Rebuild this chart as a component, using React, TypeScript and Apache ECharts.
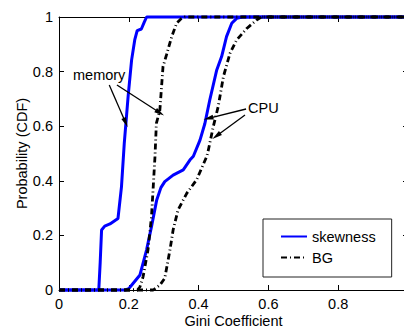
import React, { useEffect, useRef } from "react";
import * as echarts from "echarts";

const xTicks = [0, 0.2, 0.4, 0.6, 0.8, 1];
const yTicks = [0, 0.2, 0.4, 0.6, 0.8, 1];

const memSkewness: number[][] = [
  [0, 0], [0.114, 0], [0.118, 0.1], [0.122, 0.22], [0.131, 0.234], [0.146, 0.242],
  [0.169, 0.262], [0.179, 0.378], [0.187, 0.537], [0.198, 0.708], [0.208, 0.842],
  [0.217, 0.916], [0.224, 0.95], [0.236, 0.956], [0.244, 0.98], [0.251, 1], [1, 1],
];
const memBG: number[][] = [
  [0, 0], [0.225, 0], [0.232, 0.012], [0.241, 0.049], [0.255, 0.147], [0.265, 0.268],
  [0.27, 0.378], [0.275, 0.488], [0.279, 0.61], [0.289, 0.659], [0.298, 0.818],
  [0.308, 0.861], [0.323, 0.928], [0.337, 0.977], [0.351, 0.995], [0.36, 1], [1, 1],
];
const cpuSkewness: number[][] = [
  [0, 0], [0.19, 0], [0.2, 0.005], [0.212, 0.024], [0.232, 0.055], [0.251, 0.147],
  [0.265, 0.232], [0.28, 0.33], [0.292, 0.375], [0.303, 0.397], [0.327, 0.421],
  [0.356, 0.44], [0.375, 0.476], [0.385, 0.49], [0.404, 0.549], [0.418, 0.61],
  [0.432, 0.696], [0.452, 0.806], [0.466, 0.855], [0.48, 0.928], [0.495, 0.977],
  [0.509, 0.995], [0.525, 1], [1, 1],
];
const cpuBG: number[][] = [
  [0, 0], [0.27, 0], [0.289, 0.018], [0.303, 0.043], [0.318, 0.147], [0.327, 0.22],
  [0.341, 0.293], [0.366, 0.354], [0.394, 0.403], [0.423, 0.488], [0.428, 0.513],
  [0.442, 0.598], [0.456, 0.671], [0.471, 0.781], [0.49, 0.867], [0.509, 0.916],
  [0.538, 0.958], [0.566, 0.989], [0.58, 1], [1, 1],
];

// annotation arrows: [fromX, fromY, toX, toY] in data coordinates
const arrows: number[][] = [
  [0.144, 0.751, 0.191, 0.613],
  [0.166, 0.751, 0.289, 0.649],
  [0.536, 0.663, 0.428, 0.629],
  [0.533, 0.641, 0.451, 0.564],
];

const FONT = "'Liberation Sans', Arial, Helvetica, sans-serif";
const FS = 14.5;

export default function App() {
  const ref = useRef<HTMLDivElement>(null);
  useEffect(() => {
    if (!ref.current) return;
    const chart = echarts.init(ref.current, undefined, { renderer: "svg" });
    const blue = "#0000ff";
    const bgLine = { color: "#000", width: 2.8, type: [6, 3, 1, 3] as any, cap: "butt" as any };
    const skLine = { color: blue, width: 3 };
    const axisCommon = {
      type: "value" as const,
      min: 0,
      max: 1,
      interval: 0.2,
      axisLine: { show: true, onZero: false, lineStyle: { color: "#000", width: 1 } },
      axisTick: { show: true, inside: true, length: 5, lineStyle: { color: "#000" } },
      splitLine: { show: false },
    };
    chart.setOption({
      animation: false,
      textStyle: { fontFamily: FONT },
      grid: { left: 59, right: -4, top: 17, bottom: 37, containLabel: false, outerBoundsMode: "none" },
      legend: {
        orient: "vertical",
        left: 263,
        top: 219,
        data: ["skewness", "BG"],
        backgroundColor: "#fff",
        borderColor: "#222",
        borderWidth: 1,
        borderRadius: 0,
        padding: [10, 16, 12, 17],
        itemGap: 6,
        itemWidth: 26,
        itemHeight: 14,
        itemStyle: { opacity: 0 },
        textStyle: { fontFamily: FONT, fontSize: FS, color: "#000" },
      },
      xAxis: [
        {
          ...axisCommon,
          position: "bottom",
          name: "Gini Coefficient",
          nameLocation: "middle",
          nameGap: 23,
          nameMoveOverlap: false,
          nameTextStyle: { fontFamily: FONT, fontSize: FS, color: "#000", verticalAlign: "top" },
          axisLabel: {
            color: "#000",
            fontFamily: FONT,
            fontSize: FS,
            margin: 6,
            showMaxLabel: false,
            formatter: (v: number) => (xTicks.includes(Math.round(v * 10) / 10) ? String(Math.round(v * 10) / 10) : ""),
          },
        },
        {
          ...axisCommon,
          position: "top",
          axisLabel: { show: false },
        },
      ],
      yAxis: [
        {
          ...axisCommon,
          position: "left",
          name: "Probability (CDF)",
          nameLocation: "middle",
          nameGap: 30,
          nameMoveOverlap: false,
          nameTextStyle: { fontFamily: FONT, fontSize: FS, color: "#000" },
          axisLabel: {
            color: "#000",
            fontFamily: FONT,
            fontSize: FS,
            margin: 6,
            formatter: (v: number) => (yTicks.includes(Math.round(v * 10) / 10) ? String(Math.round(v * 10) / 10) : ""),
          },
        },
        {
          ...axisCommon,
          position: "right",
          axisLabel: { show: false },
        },
      ],
      series: [
        {
          name: "skewness", type: "line", data: memSkewness, showSymbol: false, symbol: "none",
          lineStyle: skLine, itemStyle: { color: blue }, clip: false, z: 2,
        },
        {
          name: "skewness", type: "line", data: cpuSkewness, showSymbol: false, symbol: "none",
          lineStyle: skLine, itemStyle: { color: blue }, clip: false, z: 2,
        },
        {
          name: "BG", type: "line", data: memBG, showSymbol: false, symbol: "none",
          lineStyle: bgLine, itemStyle: { color: "#000" }, clip: false, z: 3,
        },
        {
          name: "BG", type: "line", data: cpuBG, showSymbol: false, symbol: "none",
          lineStyle: bgLine, itemStyle: { color: "#000" }, clip: false, z: 3,
        },
        {
          name: "annotations", type: "line", data: [], z: 4,
          markLine: {
            silent: true,
            animation: false,
            label: { show: false },
            lineStyle: { color: "#000", type: "solid", width: 1.3 },
            symbol: ["none", "triangle"],
            symbolSize: [6, 10],
            data: arrows.map((a) => [
              { coord: [a[0], a[1]], symbol: "none" },
              { coord: [a[2], a[3]], symbol: "triangle", symbolSize: [5, 10] },
            ]),
          },
        },
      ],
      graphic: [
        {
          type: "text", left: 73, top: 67,
          style: { text: "memory", fontFamily: FONT, fontSize: FS, fill: "#000" },
        },
        {
          type: "text", left: 248, top: 100,
          style: { text: "CPU", fontFamily: FONT, fontSize: FS, fill: "#000" },
        },
      ],
    });
    return () => chart.dispose();
  }, []);
  return (
    <div
      ref={ref}
      style={{ position: "absolute", left: 0, top: 0, width: 404, height: 327, background: "#fff" }}
    />
  );
}
